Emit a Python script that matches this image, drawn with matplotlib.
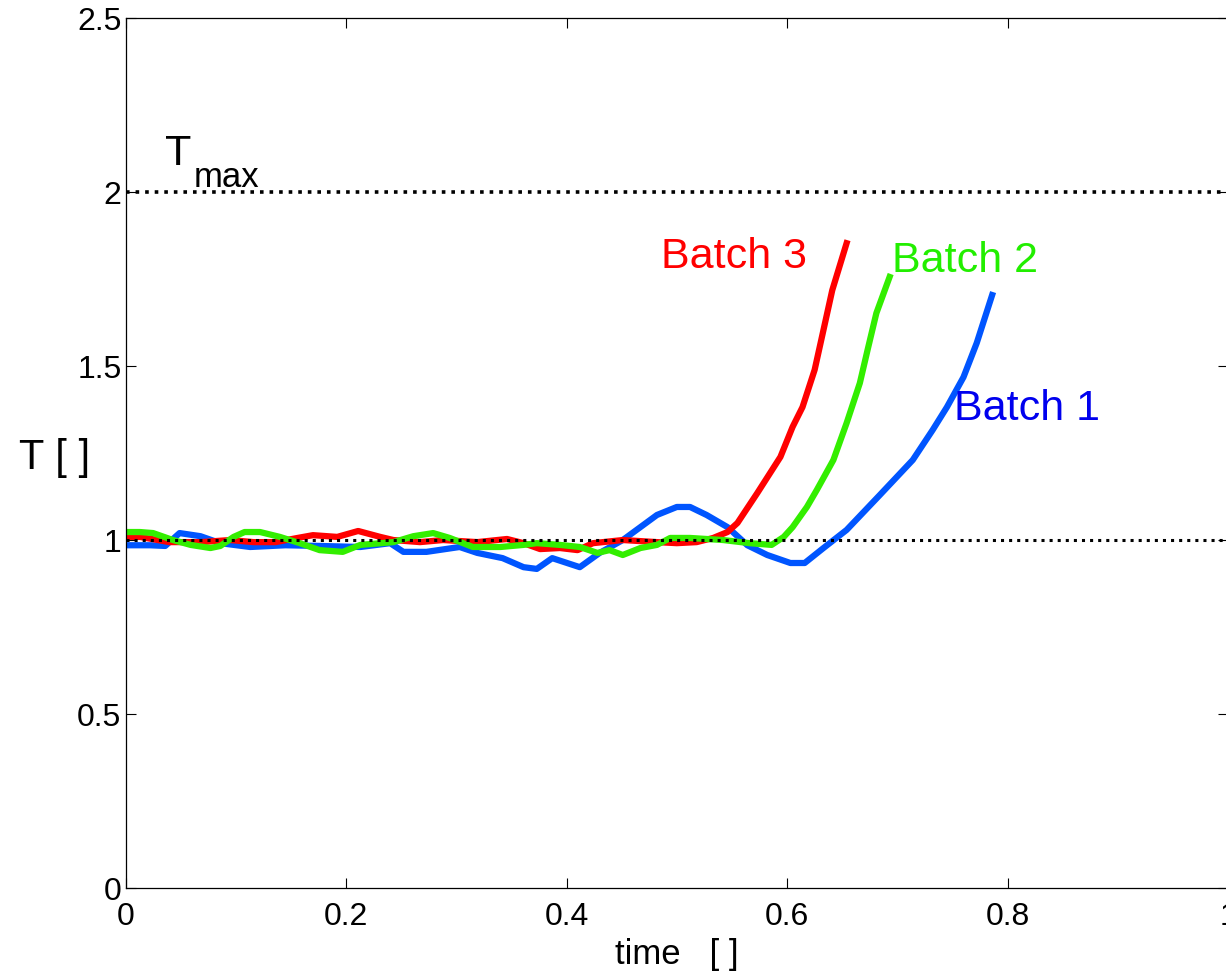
import matplotlib
matplotlib.use("Agg")
import matplotlib.pyplot as plt

plt.rcParams['font.family'] = ['Liberation Sans', 'DejaVu Sans']

# batch 1 (blue)
t_b1 = [0.0, 0.022, 0.036, 0.049, 0.068, 0.086, 0.113, 0.145, 0.176, 0.213,
        0.240, 0.252, 0.273, 0.303, 0.319, 0.342, 0.361, 0.373, 0.387, 0.412,
        0.430, 0.451, 0.482, 0.500, 0.512, 0.527, 0.546, 0.564, 0.582, 0.603,
        0.616, 0.633, 0.654, 0.684, 0.714, 0.732, 0.745, 0.760, 0.772, 0.786]
T_b1 = [0.985, 0.985, 0.983, 1.020, 1.011, 0.991, 0.980, 0.985, 0.983, 0.980,
        0.991, 0.966, 0.966, 0.980, 0.963, 0.948, 0.922, 0.917, 0.948, 0.922,
        0.963, 1.000, 1.072, 1.095, 1.095, 1.072, 1.037, 0.985, 0.957, 0.934,
        0.934, 0.977, 1.029, 1.129, 1.230, 1.316, 1.382, 1.468, 1.566, 1.704]

# batch 2 (green)
t_b2 = [0.0, 0.013, 0.025, 0.043, 0.059, 0.077, 0.086, 0.098, 0.108, 0.122,
        0.140, 0.158, 0.176, 0.197, 0.213, 0.243, 0.261, 0.279, 0.294, 0.315,
        0.340, 0.361, 0.373, 0.394, 0.412, 0.428, 0.439, 0.451, 0.467, 0.482,
        0.494, 0.512, 0.542, 0.566, 0.586, 0.597, 0.605, 0.618, 0.627, 0.642,
        0.654, 0.666, 0.673, 0.681, 0.693]
T_b2 = [1.023, 1.023, 1.020, 1.000, 0.986, 0.977, 0.983, 1.009, 1.023, 1.023,
        1.009, 0.991, 0.971, 0.966, 0.986, 0.994, 1.011, 1.020, 1.006, 0.980,
        0.980, 0.986, 0.991, 0.986, 0.980, 0.963, 0.971, 0.957, 0.977, 0.986,
        1.006, 1.006, 1.000, 0.991, 0.986, 1.009, 1.037, 1.095, 1.144, 1.230,
        1.336, 1.451, 1.546, 1.652, 1.756]

# batch 3 (red)
t_b3 = [0.0, 0.013, 0.040, 0.068, 0.095, 0.116, 0.136, 0.156, 0.170, 0.192,
        0.211, 0.231, 0.243, 0.267, 0.288, 0.319, 0.346, 0.361, 0.376, 0.394,
        0.410, 0.424, 0.451, 0.482, 0.500, 0.518, 0.533, 0.546, 0.555, 0.564,
        0.573, 0.594, 0.605, 0.614, 0.625, 0.632, 0.641, 0.654]
T_b3 = [1.009, 1.009, 0.994, 0.994, 1.000, 0.994, 0.994, 1.006, 1.014, 1.009,
        1.026, 1.009, 1.000, 0.994, 1.000, 0.994, 1.003, 0.991, 0.974, 0.977,
        0.971, 0.991, 1.000, 0.994, 0.991, 0.994, 1.006, 1.023, 1.049, 1.092,
        1.135, 1.239, 1.325, 1.382, 1.489, 1.589, 1.718, 1.853]

T_ref = 1.0
T_max = 2.0

x_ticks = [0, 0.2, 0.4, 0.6, 0.8, 1]
y_ticks = [0, 0.5, 1, 1.5, 2, 2.5]

fig = plt.figure(figsize=(12.26, 9.75), dpi=100)
# axes run slightly past the right edge of the canvas
ax = fig.add_axes([0.1024, 0.0892, 0.8993, 0.8923])

ax.plot(t_b1, T_b1, color='#0055ff', lw=4.5)
ax.plot(t_b3, T_b3, color='#ff0000', lw=4.5)
ax.plot(t_b2, T_b2, color='#33ee00', lw=4.5)

ax.axhline(T_ref, color='black', ls=':', lw=2.2, zorder=5)
ax.axhline(T_max, color='black', ls=':', lw=2.6, zorder=5)

# labels on the curves
ax.text(0.486, 1.782, 'Batch 3', color='#ff0000', fontsize=31, va='baseline')
ax.text(0.695, 1.770, 'Batch 2', color='#22ee00', fontsize=31, va='baseline')
ax.text(0.751, 1.345, 'Batch 1', color='#0000ee', fontsize=31, va='baseline')

# T_max label
ax.text(0.036, 2.078, 'T', fontsize=31, va='baseline')
ax.text(0.062, 2.014, 'max', fontsize=25, va='baseline')

ax.set_xlim(0, 1)
ax.set_ylim(0, 2.5)
ax.set_xticks(x_ticks)
ax.set_xticklabels(['0', '0.2', '0.4', '0.6', '0.8', '1'])
ax.set_yticks(y_ticks)
ax.set_yticklabels(['0', '0.5', '1', '1.5', '2', '2.5'])

ax.tick_params(direction='in', length=7.5, width=0.8, top=True, right=True)
ax.tick_params(axis='x', labelsize=23, pad=10)
ax.tick_params(axis='y', labelsize=23, pad=3)
for s in ax.spines.values():
    s.set_linewidth(0.9)

ax.set_xlabel('time   [ ]', fontsize=25)
ax.xaxis.set_label_coords(0.5, -0.058)
ax.set_ylabel('T [ ]', rotation=0, fontsize=30, ha='center', va='center')
ax.yaxis.set_label_coords(-0.064, 0.494)

plt.savefig('out.png', dpi=100)
